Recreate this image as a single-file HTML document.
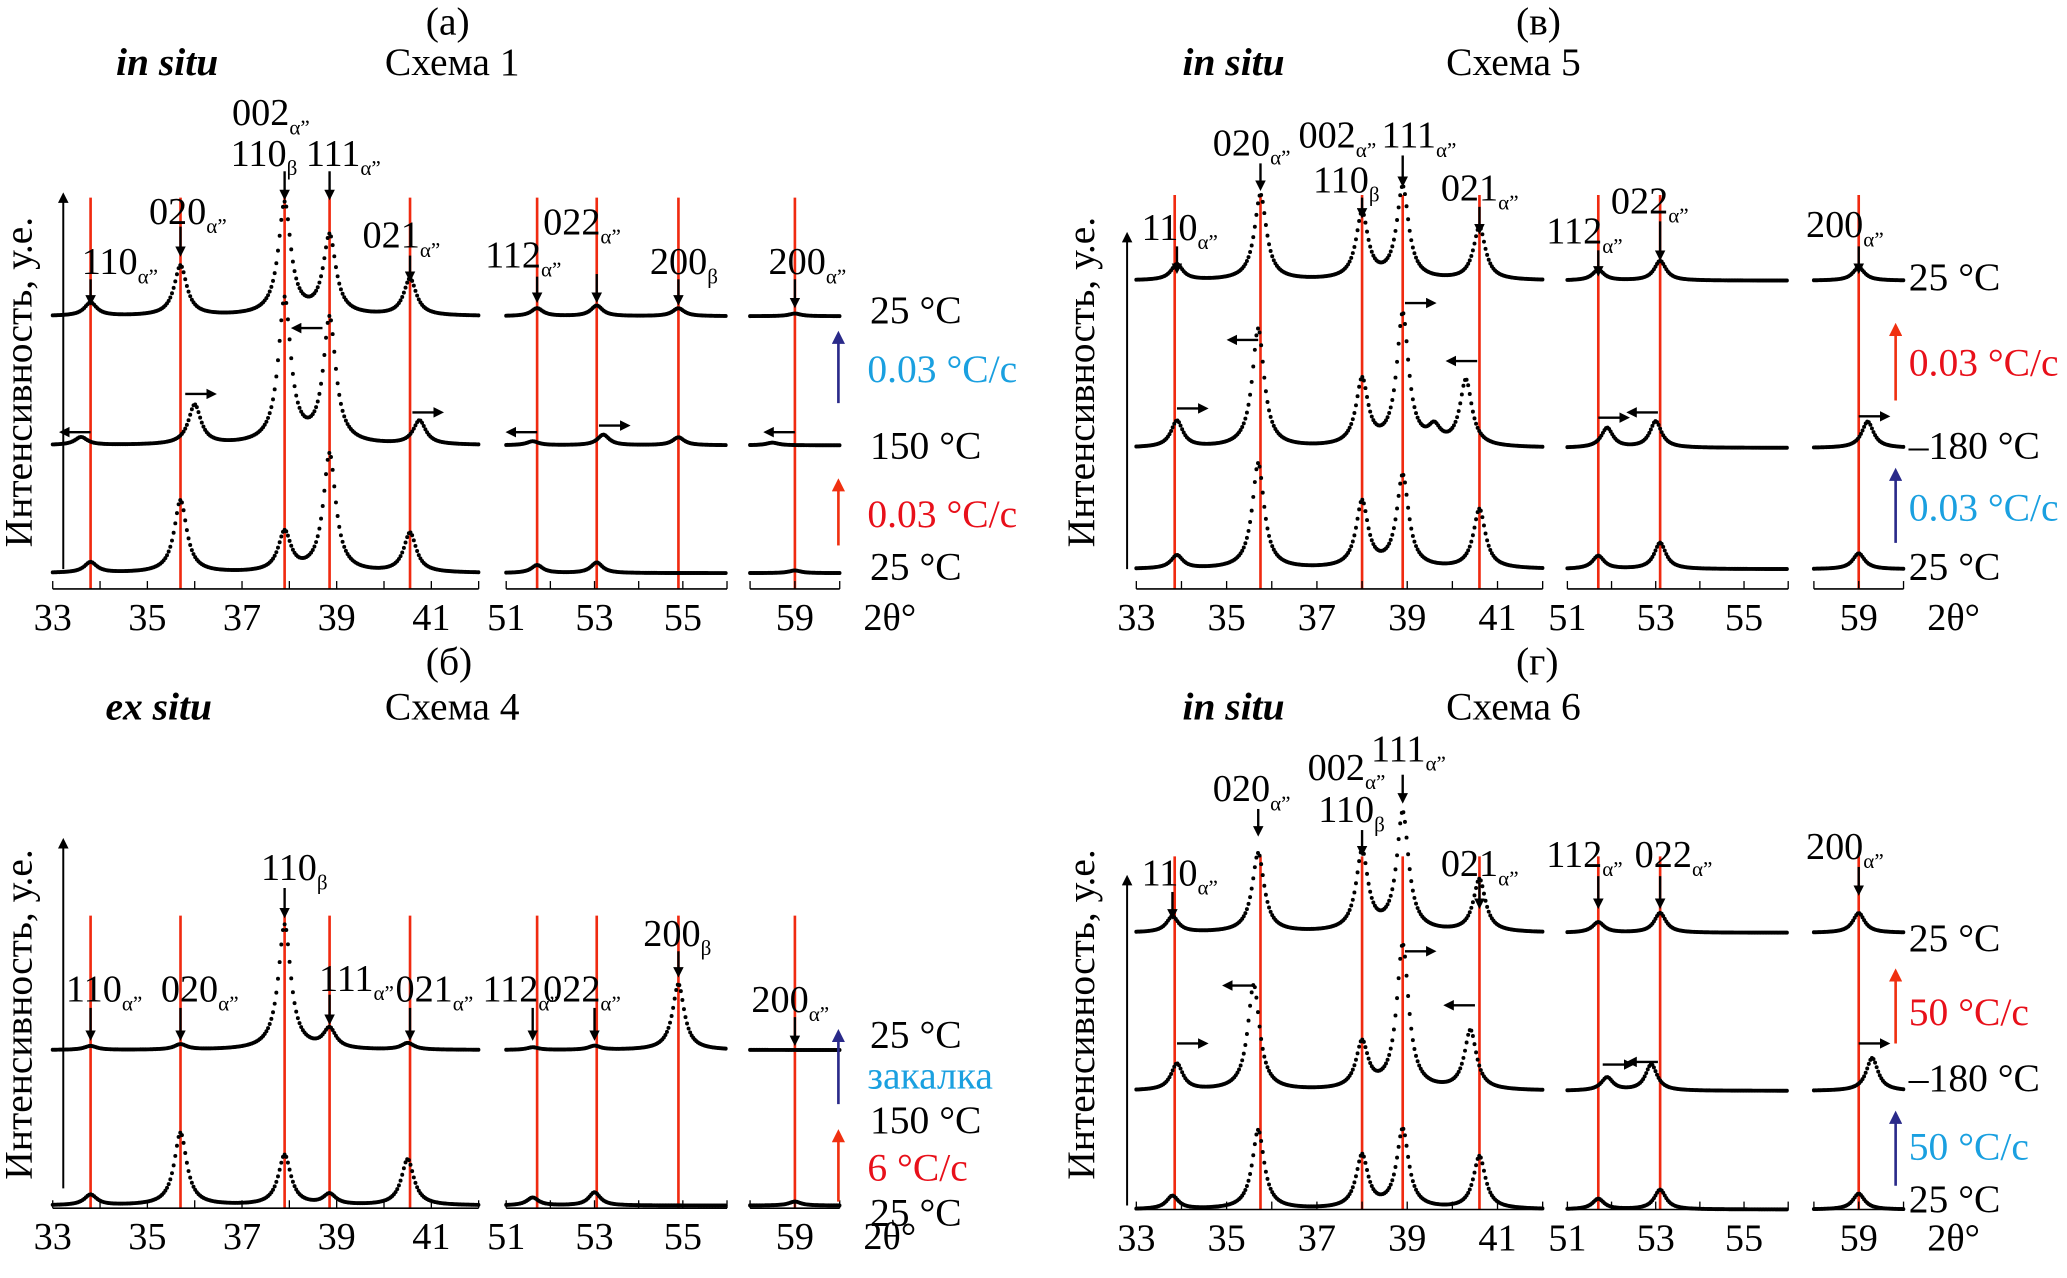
<!DOCTYPE html>
<html><head><meta charset="utf-8"><style>
html,body{margin:0;padding:0;background:#fff}
svg{display:block}
text{font-family:"Liberation Serif","DejaVu Serif",serif;fill:#000}
</style></head><body>
<svg id="fig" width="2067" height="1278" viewBox="0 0 1568 970" preserveAspectRatio="none" xmlns="http://www.w3.org/2000/svg">
<defs>
<marker id="ah" markerWidth="8" markerHeight="8" refX="4" refY="4" orient="auto" markerUnits="userSpaceOnUse"><path d="M0,0 L8,4 L0,8 z" fill="#000"/></marker>
<marker id="ahr" markerWidth="10" markerHeight="10" refX="5" refY="5" orient="auto" markerUnits="userSpaceOnUse"><path d="M0,0 L10,5 L0,10 z" fill="#f03010"/></marker>
<marker id="ahb" markerWidth="10" markerHeight="10" refX="5" refY="5" orient="auto" markerUnits="userSpaceOnUse"><path d="M0,0 L10,5 L0,10 z" fill="#2a2a8a"/></marker>
</defs>
</svg>
<script>
// ---- data: peak positions (deg 2θ) and intensities per trace ----
const panelATop=[[33.8,10],[35.7,38],[37.9,85],[38.85,60],[40.55,28],[51.7,6],[53.05,8],[54.9,6],[59,2]];
const panelAMid=[[33.6,6],[36.0,30],[37.9,110],[38.85,95],[40.75,18],[51.6,3],[53.2,8],[54.9,6],[58.5,2]];
const panelABot=[[33.8,8],[35.7,55],[37.9,30],[38.85,90],[40.55,30],[51.7,6],[53.05,8],[59,2]];
const panelBTop=[[33.8,3],[35.7,4],[37.9,95],[38.85,15],[40.5,5],[51.6,2],[53,3],[54.9,50]];
const panelBBot=[[33.8,8],[35.7,55],[37.9,38],[38.85,8],[40.5,35],[51.6,6],[53,10],[59,3]];
const panelVTop=[[33.9,12],[35.75,65],[38.0,50],[38.9,70],[40.6,40],[51.7,8],[53.1,15],[59,10]];
const panelVMid=[[33.9,20],[35.7,90],[38.0,50],[38.9,100],[40.3,50],[39.6,12],[51.9,15],[53.0,20],[59.2,20]];
const panelVBot=[[33.9,10],[35.7,80],[38.0,50],[38.9,70],[40.6,45],[51.7,10],[53.1,20],[59,12]];
const panelGTop=[[33.8,12],[35.7,60],[38.0,60],[38.9,90],[40.6,40],[51.7,8],[53.1,15],[59,15]];
const panelGMid=[[33.9,20],[35.6,80],[38.0,35],[38.9,110],[40.4,45],[51.9,10],[52.9,20],[59.3,25]];
const panelGBot=[[33.8,10],[35.7,60],[38.0,40],[38.9,60],[40.6,40],[51.7,8],[53.1,15],[59,12]];
const redLinesLeft=[33.8,35.7,37.9,38.85,40.55,51.7,53.05,54.9,59];
const redLinesRight=[33.85,35.75,38.0,38.9,40.6,51.7,53.1,59];
const tickLabels1=[33,35,37,39,41];
const tickLabels2=[51,53,55];
const tickLabels3=[59];

const svg=document.getElementById('fig');
const NS='http://www.w3.org/2000/svg';
function mk(tag,attrs,parent){const e=document.createElementNS(NS,tag);for(const k in attrs)e.setAttribute(k,attrs[k]);(parent||svg).appendChild(e);return e;}

function makeX(x33,s1,x51,s2,x58,s3){
  return function(d){ if(d<=42.5) return x33+(d-33)*s1; if(d<=56.5) return x51+(d-51)*s2; return x58+(d-58)*s3; };
}
const segs=[[33,42],[51,56],[58,60]];

function trace(g,X,base,peaks,name){
  const tg=mk('g',{},g);
  
  
  for(const [lo,hi] of segs){
    for(let d=lo;d<=hi+1e-6;d+=0.035){
      let y=0;
      for(const [p,h] of peaks){const u=(d-p)/0.16;y+=h/(1+u*u);}
      mk('circle',{cx:X(d).toFixed(2),cy:(base-y).toFixed(2),r:1.5,fill:'#000'},tg);
    }
  }
}

function axis(g,X,y){
  const ag=mk('g',{},g);
  
  
  for(const [lo,hi] of segs){
    mk('line',{x1:X(lo),y1:y,x2:X(hi),y2:y,stroke:'#000','stroke-width':1.2},ag);
    for(let d=lo;d<=hi;d++) mk('line',{x1:X(d),y1:y,x2:X(d),y2:y-6,stroke:'#000','stroke-width':1},ag);
  }
  for(const t of tickLabels1.concat(tickLabels2,tickLabels3)){
    const tx=mk('text',{x:X(t),y:y+31,'font-size':29,'text-anchor':'middle'},ag);
    tx.textContent=t;
  }
  const lab=mk('text',{x:X(60)+18,y:y+31,'font-size':29},ag);
  lab.textContent='2θ°';
}

function redLines(g,X,list,y1,y2){
  for(const d of list){
    const l=mk('line',{x1:X(d),y1:y1,x2:X(d),y2:y2,stroke:'#f02a10','stroke-width':2},g);
    
    
  }
}

function label(g,x,y,main,sub){
  const t=mk('text',{x:x,y:y,'font-size':29},g);
  
  
  t.appendChild(document.createTextNode(main));
  if(sub){const s=mk('tspan',{'font-size':16,dy:7},t);s.textContent=sub;}
}
function darrow(g,x,y1,y2){mk('line',{x1:x,y1:y1,x2:x,y2:y2-4,stroke:'#000','stroke-width':1.8,'marker-end':'url(#ah)'},g);}
function harrow(g,x,y,dir){mk('line',{x1:x,y1:y,x2:x+dir*20,y2:y,stroke:'#000','stroke-width':1.8,'marker-end':'url(#ah)'},g);}
function txt(g,x,y,s,opt,name){const t=mk('text',Object.assign({x:x,y:y,'font-size':30},opt||{}),g);t.textContent=s;return t;}
function vArrow(g,x,y1,y2,col,m){mk('line',{x1:x,y1:y1,x2:x,y2:y2,stroke:col,'stroke-width':2,'marker-end':'url('+m+')'},g);}
function yAxis(g,x,y1,y2,cy){
  mk('line',{x1:x,y1:y1,x2:x,y2:y2,stroke:'#000','stroke-width':1.5,'marker-end':'url(#ah)'},g);
  const t=mk('text',{x:0,y:0,'font-size':30,'text-anchor':'middle',transform:'translate(24,'+cy+') rotate(-90)'},g);
  t.textContent='Интенсивность, у.е.';
  
  
}

// ---------- Panel (а) ----------
(function(){
  const g=mk('g',{});
  const X=makeX(40,35.9,384,33.5,569,34);
  redLines(g,X,redLinesLeft,150,447);
  trace(g,X,240,panelATop,'trace-25c-final');
  trace(g,X,338,panelAMid,'trace-150c');
  trace(g,X,435,panelABot,'trace-25c-initial');
  axis(g,X,447);
  yAxis(g,48,432,150,290);
  txt(g,323,26,'(а)',{},'panel-label');
  txt(g,88,57,'in situ',{'font-weight':'bold','font-style':'italic'},'mode-label');
  txt(g,292,57,'Схема 1',{},'scheme-title');
  label(g,62,208,'110','α”');darrow(g,X(33.8),212,232);
  label(g,113,170,'020','α”');darrow(g,X(35.7),172,195);
  label(g,176,95,'002','α”');label(g,175,126,'110','β');label(g,232,126,'111','α”');
  darrow(g,X(37.9),130,152);darrow(g,X(38.85),130,152);
  label(g,275,188,'021','α”');darrow(g,X(40.55),194,214);
  label(g,368,203,'112','α”');darrow(g,X(51.7),210,230);
  label(g,412,178,'022','α”');darrow(g,X(53.05),208,230);
  label(g,493,208,'200','β');darrow(g,X(54.9),212,232);
  label(g,583,208,'200','α”');darrow(g,X(59),212,234);
  harrow(g,X(33.8),328,-1);harrow(g,X(35.8),299,1);harrow(g,X(38.7),249,-1);harrow(g,X(40.6),313,1);
  harrow(g,X(51.7),328,-1);harrow(g,X(53.1),323,1);harrow(g,X(59),328,-1);
  txt(g,660,245,'25 °C',{},'temp-label');
  txt(g,658,290,'0.03 °C/c',{style:'fill:#1aa0e0'},'rate-label');
  txt(g,660,348,'150 °C',{},'temp-label');
  txt(g,658,400,'0.03 °C/c',{style:'fill:#e8101a'},'rate-label');
  txt(g,660,440,'25 °C',{},'temp-label');
  vArrow(g,636,306,256,'#2a2a8a','#ahb');vArrow(g,636,414,368,'#f03010','#ahr');
})();

// ---------- Panel (б) ----------
(function(){
  const g=mk('g',{});
  const X=makeX(40,35.9,384,33.5,569,34);
  redLines(g,X,redLinesLeft,695,917);
  trace(g,X,797,panelBTop,'trace-25c-quenched');
  trace(g,X,915,panelBBot,'trace-25c-initial');
  axis(g,X,917);
  yAxis(g,48,902,640,770);
  txt(g,323,512,'(б)',{},'panel-label');
  txt(g,80,546,'ex situ',{'font-weight':'bold','font-style':'italic'},'mode-label');
  txt(g,292,546,'Схема 4',{},'scheme-title');
  label(g,50,760,'110','α”');darrow(g,X(33.8),765,790);
  label(g,122,760,'020','α”');darrow(g,X(35.7),765,790);
  label(g,198,668,'110','β');darrow(g,X(37.9),674,697);
  label(g,242,752,'111','α”');darrow(g,X(38.85),755,778);
  label(g,300,760,'021','α”');darrow(g,X(40.55),765,790);
  label(g,366,760,'112','α”');darrow(g,X(51.6),765,790);
  label(g,412,760,'022','α”');darrow(g,X(53),765,790);
  label(g,488,718,'200','β');darrow(g,X(54.9),722,742);
  label(g,570,768,'200','α”');darrow(g,X(59),772,794);
  txt(g,660,795,'25 °C',{},'temp-label');
  txt(g,658,826,'закалка',{style:'fill:#1aa0e0'},'quench-label');
  txt(g,660,860,'150 °C',{},'temp-label');
  txt(g,658,896,'6 °C/c',{style:'fill:#e8101a'},'rate-label');
  txt(g,660,930,'25 °C',{},'temp-label');
  vArrow(g,636,838,786,'#2a2a8a','#ahb');vArrow(g,636,912,862,'#f03010','#ahr');
})();

// ---------- Panel (в) ----------
(function(){
  const g=mk('g',{});
  const X=makeX(862,34.25,1189,33.5,1376,34);
  redLines(g,X,redLinesRight,148,447);
  trace(g,X,213,panelVTop,'trace-25c-final');
  trace(g,X,340,panelVMid,'trace-minus180c');
  trace(g,X,432,panelVBot,'trace-25c-initial');
  axis(g,X,447);
  mk('line',{x1:855,y1:432,x2:855,y2:180,stroke:'#000','stroke-width':1.5,'marker-end':'url(#ah)'},g);
  const yt=mk('text',{x:0,y:0,'font-size':30,'text-anchor':'middle',transform:'translate(830,290) rotate(-90)'},g);
  yt.textContent='Интенсивность, у.е.';
  
  
  txt(g,1150,26,'(в)',{},'panel-label');
  txt(g,897,57,'in situ',{'font-weight':'bold','font-style':'italic'},'mode-label');
  txt(g,1097,57,'Схема 5',{},'scheme-title');
  label(g,866,182,'110','α”');darrow(g,X(33.9),187,208);
  label(g,920,118,'020','α”');darrow(g,X(35.75),124,145);
  label(g,985,112,'002','α”');label(g,996,146,'110','β');label(g,1048,112,'111','α”');
  darrow(g,X(38.0),150,166);darrow(g,X(38.9),118,142);
  label(g,1093,152,'021','α”');darrow(g,X(40.6),157,178);
  label(g,1173,185,'112','α”');darrow(g,X(51.7),190,210);
  label(g,1222,162,'022','α”');darrow(g,X(53.1),168,198);
  label(g,1370,180,'200','α”');darrow(g,X(59),187,208);
  harrow(g,X(33.9),310,1);harrow(g,X(35.7),258,-1);harrow(g,X(38.95),230,1);harrow(g,X(40.55),274,-1);
  harrow(g,X(51.7),317,1);harrow(g,X(53.05),313,-1);harrow(g,X(59),316,1);
  txt(g,1448,220,'25 °C',{},'temp-label');
  txt(g,1448,285,'0.03 °C/c',{style:'fill:#e8101a'},'rate-label');
  txt(g,1448,348,'–180 °C',{},'temp-label');
  txt(g,1448,395,'0.03 °C/c',{style:'fill:#1aa0e0'},'rate-label');
  txt(g,1448,440,'25 °C',{},'temp-label');
  vArrow(g,1438,304,250,'#f03010','#ahr');vArrow(g,1438,412,360,'#2a2a8a','#ahb');
})();

// ---------- Panel (г) ----------
(function(){
  const g=mk('g',{});
  const X=makeX(862,34.25,1189,33.5,1376,34);
  redLines(g,X,redLinesRight,650,918);
  trace(g,X,708,panelGTop,'trace-25c-final');
  trace(g,X,828,panelGMid,'trace-minus180c');
  trace(g,X,918,panelGBot,'trace-25c-initial');
  axis(g,X,918);
  mk('line',{x1:855,y1:915,x2:855,y2:668,stroke:'#000','stroke-width':1.5,'marker-end':'url(#ah)'},g);
  const yt=mk('text',{x:0,y:0,'font-size':30,'text-anchor':'middle',transform:'translate(830,770) rotate(-90)'},g);
  yt.textContent='Интенсивность, у.е.';
  
  
  txt(g,1150,512,'(г)',{},'panel-label');
  txt(g,897,546,'in situ',{'font-weight':'bold','font-style':'italic'},'mode-label');
  txt(g,1097,546,'Схема 6',{},'scheme-title');
  label(g,866,672,'110','α”');darrow(g,X(33.8),677,698);
  label(g,920,608,'020','α”');darrow(g,X(35.7),614,635);
  label(g,992,592,'002','α”');label(g,1000,624,'110','β');label(g,1040,578,'111','α”');
  darrow(g,X(38.0),630,650);darrow(g,X(38.9),588,610);
  label(g,1093,665,'021','α”');darrow(g,X(40.6),670,690);
  label(g,1173,658,'112','α”');darrow(g,X(51.7),665,690);
  label(g,1240,658,'022','α”');darrow(g,X(53.1),665,690);
  label(g,1370,652,'200','α”');darrow(g,X(59),658,680);
  harrow(g,X(33.9),792,1);harrow(g,X(35.6),748,-1);harrow(g,X(38.95),722,1);harrow(g,X(40.5),763,-1);
  harrow(g,X(51.8),808,1);harrow(g,X(53.05),806,-1);harrow(g,X(59),792,1);
  txt(g,1448,722,'25 °C',{},'temp-label');
  txt(g,1448,778,'50 °C/c',{style:'fill:#e8101a'},'rate-label');
  txt(g,1448,828,'–180 °C',{},'temp-label');
  txt(g,1448,880,'50 °C/c',{style:'fill:#1aa0e0'},'rate-label');
  txt(g,1448,920,'25 °C',{},'temp-label');
  vArrow(g,1438,792,740,'#f03010','#ahr');vArrow(g,1438,900,848,'#2a2a8a','#ahb');
})();
</script>
</body></html>
